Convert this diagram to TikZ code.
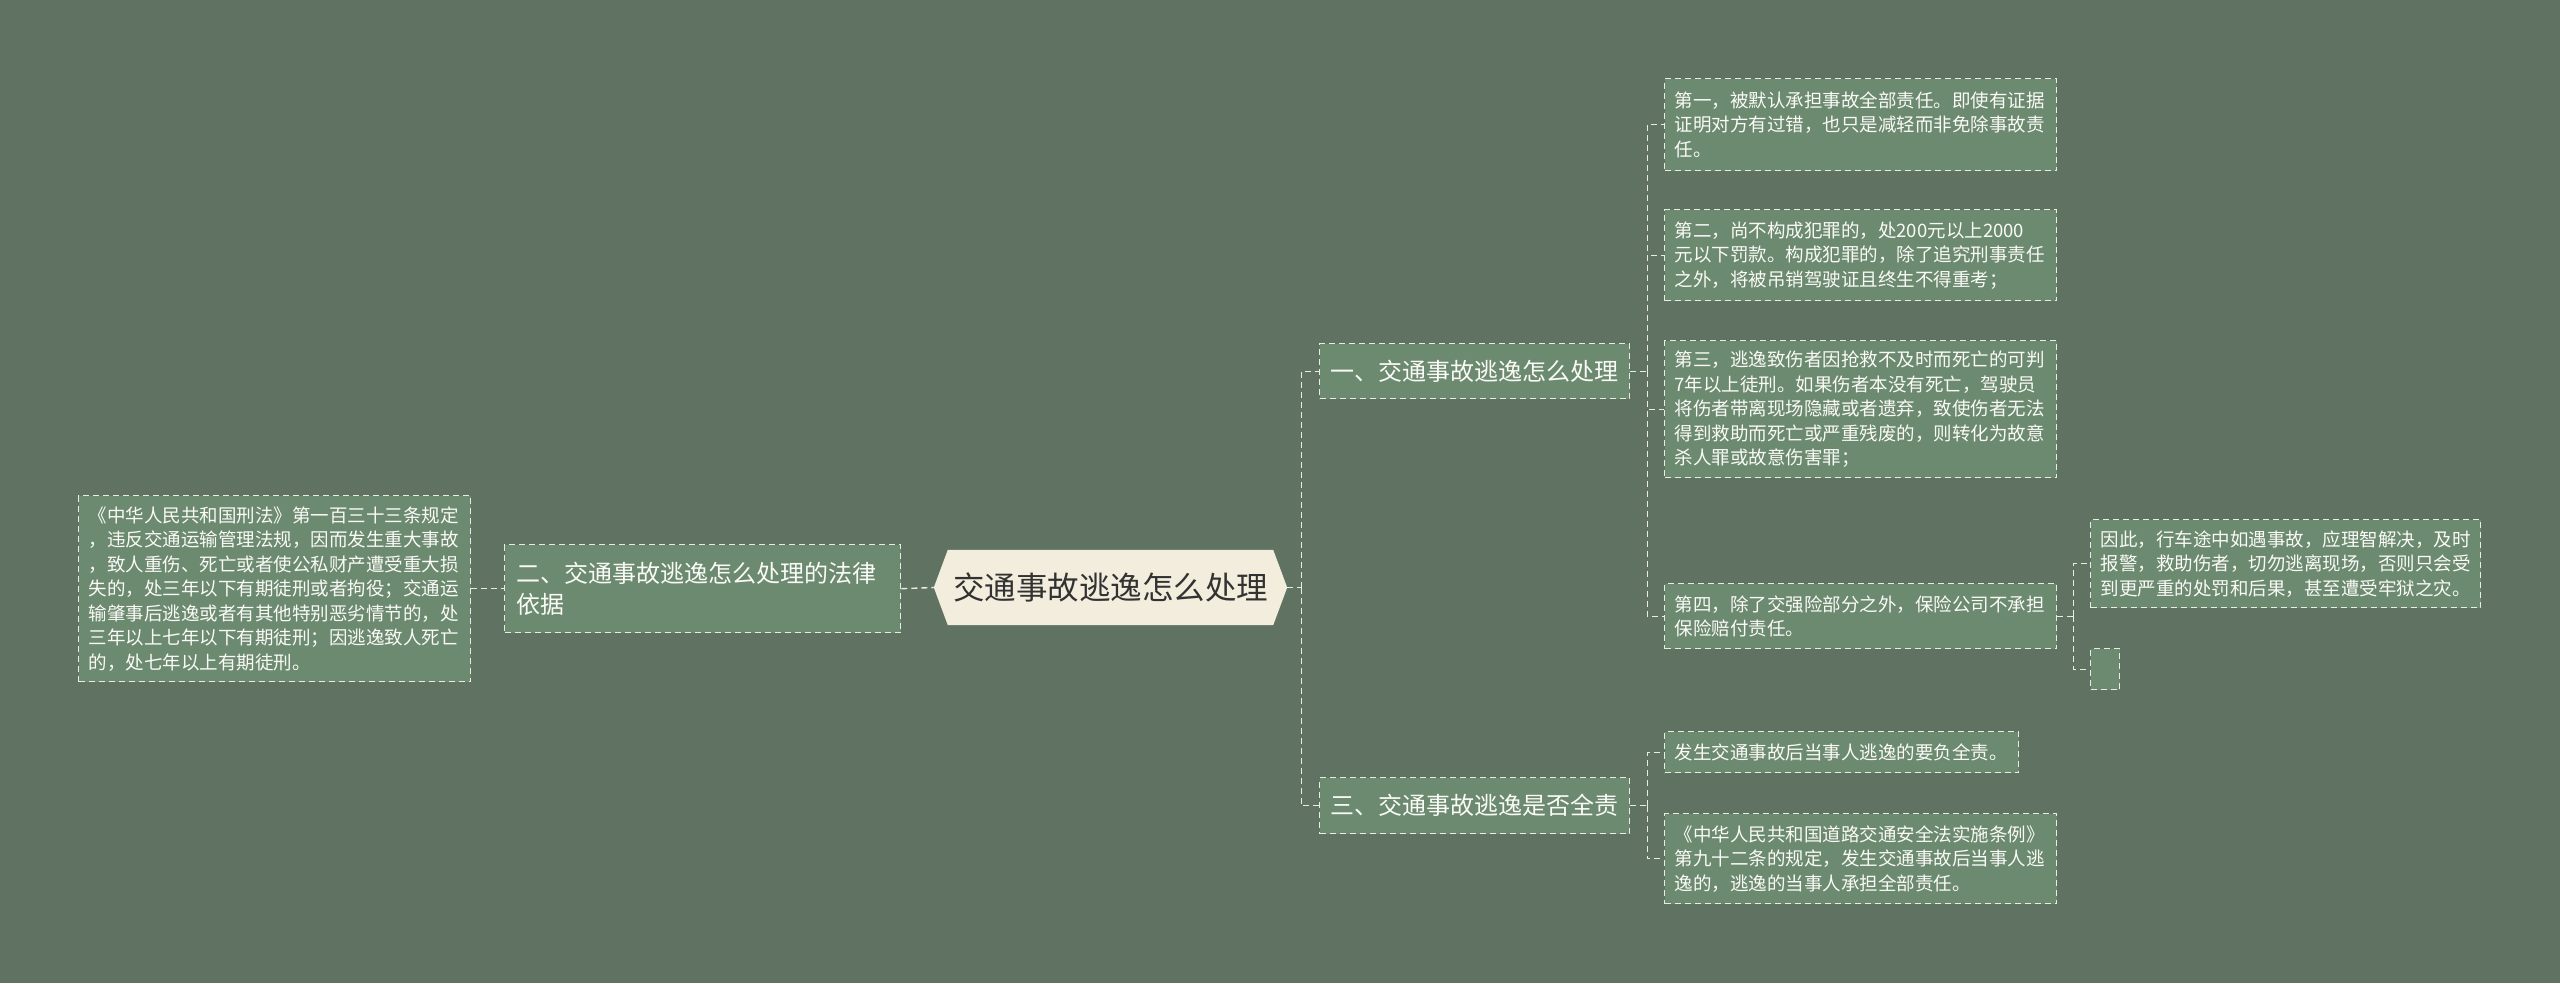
\documentclass[tikz,border=0pt]{standalone}
\usepackage{fontspec}
\setmainfont{Noto Sans CJK SC}
\usetikzlibrary{backgrounds}
\definecolor{bgC}{RGB}{96,114,98}
\definecolor{boxC}{RGB}{108,138,112}
\definecolor{lineC}{RGB}{232,236,226}
\definecolor{txtC}{RGB}{250,250,246}
\definecolor{rootC}{RGB}{242,237,220}
\definecolor{rootT}{RGB}{50,50,50}
\tikzset{
  box/.style={draw=lineC, fill=boxC, line width=1.4pt, dash pattern=on 6pt off 4pt,
    text=txtC, anchor=north west, inner xsep=10pt, inner ysep=0pt, align=left},
  conn/.style={draw=lineC, line width=1.4pt, dash pattern=on 6pt off 4pt},
  small/.style={font=\fontsize{18.5pt}{24.5pt}\selectfont},
  mid/.style={font=\fontsize{24pt}{31pt}\selectfont},
}
\begin{document}
\begin{tikzpicture}[x=1pt,y=-1pt]
\useasboundingbox (0,0) rectangle (2560,983);
\begin{scope}[on background layer]
\fill[bgC] (0,0) rectangle (2560,983);
\end{scope}

% root
\node[font=\fontsize{31.5pt}{38pt}\selectfont, text=rootT, minimum width=353pt,
  minimum height=75pt, inner sep=0pt] (root) at (1110.5,587.5) {交通事故逃逸怎么处理};
\begin{scope}[on background layer]
\fill[rootC] (root.west) -- ([xshift=14pt]root.north west) -- ([xshift=-14pt]root.north east)
  -- (root.east) -- ([xshift=-14pt]root.south east) -- ([xshift=14pt]root.south west) -- cycle;
\end{scope}

% left side
\node[box, mid, minimum width=396pt, minimum height=88pt, text width=372pt, inner xsep=12pt]
  (l2) at (504,544) {二、交通事故逃逸怎么处理的法律\\依据};
\node[box, small, minimum width=392pt, minimum height=186pt, text width=372pt]
  (l1) at (78,495) {《中华人民共和国刑法》第一百三十三条规定\\，违反交通运输管理法规，因而发生重大事故\\，致人重伤、死亡或者使公私财产遭受重大损\\失的，处三年以下有期徒刑或者拘役；交通运\\输肇事后逃逸或者有其他特别恶劣情节的，处\\三年以上七年以下有期徒刑；因逃逸致人死亡\\的，处七年以上有期徒刑。};

% right side level 1
\node[box, mid, minimum width=310pt, minimum height=55pt, text width=288pt, inner xsep=11pt]
  (r1) at (1319,343) {一、交通事故逃逸怎么处理};
\node[box, mid, minimum width=310pt, minimum height=56pt, text width=288pt, inner xsep=11pt]
  (r3) at (1319,777) {三、交通事故逃逸是否全责};

% children of r1
\node[box, small, minimum width=392pt, minimum height=92pt, text width=372pt]
  (c1) at (1664,78) {第一，被默认承担事故全部责任。即使有证据\\证明对方有过错，也只是减轻而非免除事故责\\任。};
\node[box, small, minimum width=392pt, minimum height=91pt, text width=372pt]
  (c2) at (1664,209) {第二，尚不构成犯罪的，处200元以上2000\\元以下罚款。构成犯罪的，除了追究刑事责任\\之外，将被吊销驾驶证且终生不得重考；};
\node[box, small, minimum width=392pt, minimum height=137pt, text width=372pt]
  (c3) at (1664,340) {第三，逃逸致伤者因抢救不及时而死亡的可判\\7年以上徒刑。如果伤者本没有死亡，驾驶员\\将伤者带离现场隐藏或者遗弃，致使伤者无法\\得到救助而死亡或严重残废的，则转化为故意\\杀人罪或故意伤害罪；};
\node[box, small, minimum width=392pt, minimum height=65pt, text width=372pt]
  (c4) at (1664,583) {第四，除了交强险部分之外，保险公司不承担\\保险赔付责任。};

% children of c4
\node[box, small, minimum width=390pt, minimum height=88pt, text width=370pt]
  (d1) at (2090,519) {因此，行车途中如遇事故，应理智解决，及时\\报警，救助伤者，切勿逃离现场，否则只会受\\到更严重的处罚和后果，甚至遭受牢狱之灾。};
\node[box, minimum width=29pt, minimum height=41pt, inner sep=0pt] (d2) at (2090,648) {};

% children of r3
\node[box, small, minimum width=354pt, minimum height=41pt, text width=334pt]
  (e1) at (1664,731) {发生交通事故后当事人逃逸的要负全责。};
\node[box, small, minimum width=392pt, minimum height=90pt, text width=372pt]
  (e2) at (1664,813) {《中华人民共和国道路交通安全法实施条例》\\第九十二条的规定，发生交通事故后当事人逃\\逸的，逃逸的当事人承担全部责任。};

% connectors
\coordinate (t0) at ([xshift=14pt]root.east);
\coordinate (t1) at ([xshift=17pt]r1.east);
\coordinate (t3) at ([xshift=17pt]r3.east);
\coordinate (t4) at ([xshift=16pt]c4.east);

\draw[conn] (l1.east) -- (l2.west);
\draw[conn] (l2.east) -- (root.west);
\draw[conn] (root.east) -- (t0);
\draw[conn] (t0) |- (r1.west);
\draw[conn] (t0) |- (r3.west);
\draw[conn] (r1.east) -- (t1);
\draw[conn] (t1) |- (c1.west);
\draw[conn] (t1) |- (c2.west);
\draw[conn] (t1) |- (c3.west);
\draw[conn] (t1) |- (c4.west);
\draw[conn] (c4.east) -- (t4);
\draw[conn] (t4) |- (d1.west);
\draw[conn] (t4) |- (d2.west);
\draw[conn] (r3.east) -- (t3);
\draw[conn] (t3) |- (e1.west);
\draw[conn] (t3) |- (e2.west);
\end{tikzpicture}
\end{document}
